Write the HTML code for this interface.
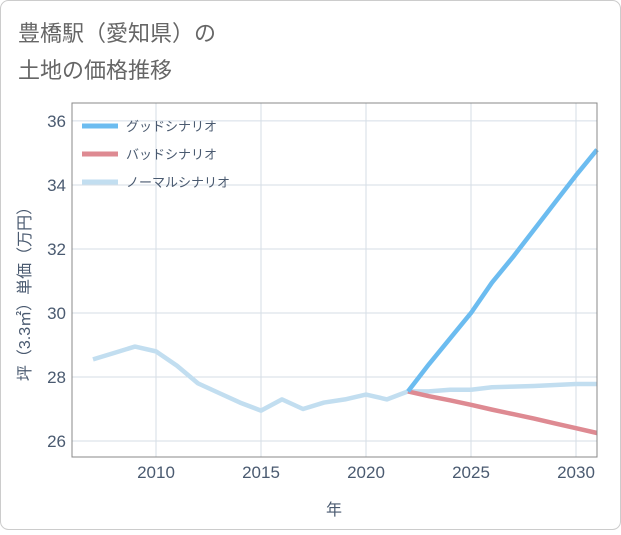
<!DOCTYPE html>
<html><head><meta charset="utf-8"><style>
body{margin:0;background:#fff;font-family:"Liberation Sans","Noto Sans CJK JP",sans-serif}
#wrap{position:relative;width:621px;height:530px;}
</style></head><body>
<div id="wrap">
<svg id="svg" width="621" height="530" xmlns="http://www.w3.org/2000/svg">
<rect x="0.5" y="0.5" width="620" height="529" rx="8" fill="#fff" stroke="#ccc"/>
<text x="18" y="41" font-size="22" fill="#666">豊橋駅（愛知県）の</text>
<text x="18" y="78" font-size="22" fill="#666">土地の価格推移</text>
<g id="grid"></g><g id="plot"></g>
<rect x="72" y="103" width="525" height="354" fill="none" stroke="#888"/>
<text x="334" y="515" font-size="16" fill="#4a5a70" text-anchor="middle">年</text>
<text transform="translate(30,290) rotate(-90)" font-size="16" fill="#4a5a70" text-anchor="middle">坪（3.3㎡）単価（万円）</text>
<g id="legend"></g>
</svg></div>
<script>
const years=[2007,2008,2009,2010,2011,2012,2013,2014,2015,2016,2017,2018,2019,2020,2021,2022,2023,2024,2025,2026,2027,2028,2029,2030,2031];
const normal=[28.55,28.75,28.95,28.8,28.35,27.8,27.5,27.2,26.95,27.3,27.0,27.2,27.3,27.45,27.3,27.55,27.55,27.6,27.6,27.68,27.7,27.72,27.75,27.78,27.78];
const goodYears=[2022,2023,2024,2025,2026,2027,2028,2029,2030,2031];
const good=[27.55,28.4,29.2,30.0,30.95,31.75,32.6,33.45,34.3,35.1];
const bad=[27.55,27.4,27.27,27.13,26.98,26.84,26.7,26.55,26.4,26.25];
const xTicks=[2010,2015,2020,2025,2030];
const yTicks=[26,28,30,32,34,36];
const X0=72,X1=597,Y0=457,Y1=103,xmin=2006,xmax=2031,ymin=25.5,ymax=36.56;
const xs=v=>X0+(v-xmin)/(xmax-xmin)*(X1-X0);
const ys=v=>Y0-(v-ymin)/(ymax-ymin)*(Y0-Y1);
const NS="http://www.w3.org/2000/svg";
function mk(t,a,p){const e=document.createElementNS(NS,t);for(const k in a)e.setAttribute(k,a[k]);p.appendChild(e);return e;}
const grid=document.getElementById('grid'),plot=document.getElementById('plot'),leg=document.getElementById('legend');
xTicks.forEach(t=>{const l=mk('line',{x1:xs(t),x2:xs(t),y1:Y1,y2:Y0,stroke:'#d5dde6'},grid);

const tx=mk('text',{x:xs(t),y:478,'font-size':17,fill:'#4a5a70','text-anchor':'middle'},grid);tx.textContent=t;
});
yTicks.forEach(t=>{const l=mk('line',{x1:X0,x2:X1,y1:ys(t),y2:ys(t),stroke:'#d5dde6'},grid);

const tx=mk('text',{x:66,y:ys(t)+6,'font-size':17,fill:'#4a5a70','text-anchor':'end'},grid);tx.textContent=t;
});
function line(xv,yv,color,name){const d=xv.map((x,i)=>(i?'L':'M')+xs(x)+','+ys(yv[i])).join('');
const p=mk('path',{d:d,fill:'none',stroke:color,'stroke-width':4.5,'stroke-linejoin':'round'},plot);
}
line(years,normal,'#c2def0','normal-scenario-line');
line(goodYears,bad,'#de8a92','bad-scenario-line');
line(goodYears,good,'#6cbcf0','good-scenario-line');
const items=[['グッドシナリオ','#6cbcf0','legend-good'],['バッドシナリオ','#de8a92','legend-bad'],['ノーマルシナリオ','#c2def0','legend-normal']];
items.forEach((it,i)=>{const y=126+i*28;const g=mk('g',{},leg);

mk('line',{x1:82,x2:118,y1:y,y2:y,stroke:it[1],'stroke-width':5},g);
const t=mk('text',{x:126,y:y+5,'font-size':13,fill:'#4a5a70'},g);t.textContent=it[0];});
</script></body></html>
